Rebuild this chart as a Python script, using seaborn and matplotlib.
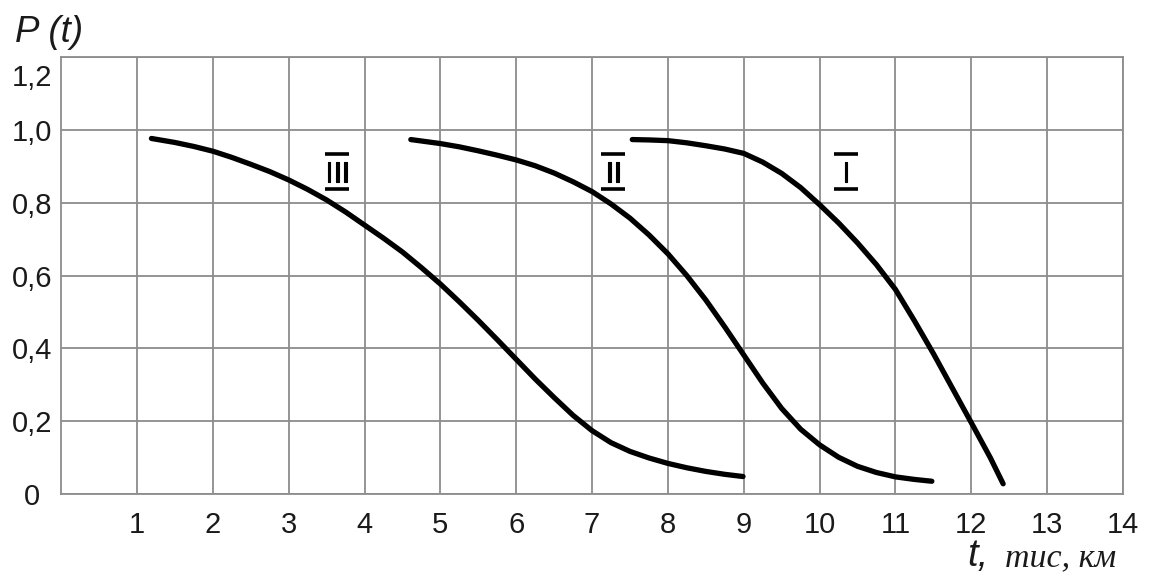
import numpy as np
import pandas as pd
import matplotlib
matplotlib.use("Agg")
import matplotlib.pyplot as plt
from matplotlib.lines import Line2D
from matplotlib.transforms import ScaledTranslation
import matplotlib.patheffects as pe
import seaborn as sns

# Reliability curves P(t) for three operating conditions
curve_names = ["I", "II", "III"]

t_I = [7.53, 7.75, 8.0, 8.25, 8.5, 8.75, 9.0, 9.25, 9.5, 9.75, 10.0, 10.25, 10.5,
       10.75, 11.0, 11.25, 11.5, 11.75, 12.0, 12.25, 12.42]
p_I = [0.974, 0.973, 0.971, 0.965, 0.957, 0.948, 0.936, 0.912, 0.881, 0.842, 0.795,
       0.745, 0.690, 0.630, 0.562, 0.476, 0.386, 0.291, 0.196, 0.100, 0.028]

t_II = [4.61, 5.0, 5.25, 5.5, 5.75, 6.0, 6.25, 6.5, 6.75, 7.0, 7.25, 7.5, 7.75, 8.0,
        8.25, 8.5, 8.75, 9.0, 9.25, 9.5, 9.75, 10.0, 10.25, 10.5, 10.75, 11.0,
        11.25, 11.48]
p_II = [0.974, 0.963, 0.954, 0.943, 0.931, 0.918, 0.902, 0.882, 0.858, 0.831, 0.797,
        0.758, 0.712, 0.660, 0.600, 0.533, 0.459, 0.382, 0.305, 0.235, 0.178, 0.135,
        0.101, 0.076, 0.059, 0.047, 0.040, 0.035]

t_III = [1.19, 1.5, 1.75, 2.0, 2.25, 2.5, 2.75, 3.0, 3.25, 3.5, 3.75, 4.0, 4.25, 4.5,
         4.75, 5.0, 5.25, 5.5, 5.75, 6.0, 6.25, 6.5, 6.75, 7.0, 7.25, 7.5, 7.75,
         8.0, 8.25, 8.5, 8.75, 8.99]
p_III = [0.977, 0.966, 0.955, 0.942, 0.925, 0.906, 0.886, 0.863, 0.837, 0.808, 0.775,
         0.739, 0.703, 0.665, 0.622, 0.577, 0.528, 0.477, 0.424, 0.370, 0.316, 0.265,
         0.216, 0.174, 0.141, 0.117, 0.099, 0.084, 0.072, 0.062, 0.054, 0.048]

# label anchor (centre x, baseline y) for each curve's numeral
label_x = [10.35, 7.28, 3.64]
label_y = [0.857, 0.857, 0.857]

x_ticks = list(range(1, 15))
y_ticks = [0.0, 0.2, 0.4, 0.6, 0.8, 1.0, 1.2]
y_tick_labels = ["0", "0,2", "0,4", "0,6", "0,8", "1,0", "1,2"]

df = pd.concat([
    pd.DataFrame({"t": t_I, "P": p_I, "curve": "I"}),
    pd.DataFrame({"t": t_II, "P": p_II, "curve": "II"}),
    pd.DataFrame({"t": t_III, "P": p_III, "curve": "III"}),
], ignore_index=True)

sns.set_theme(style="white")
plt.rcParams["font.family"] = ["Liberation Sans", "DejaVu Sans"]

DPI = 100
fig = plt.figure(figsize=(11.5, 5.75), dpi=DPI)
fig.patch.set_facecolor("white")
ax = fig.add_axes([0.0532, 0.1409, 0.9233, 0.7594])
ax.set_facecolor("white")

sns.lineplot(data=df, x="t", y="P", hue="curve", units="curve", estimator=None,
             sort=False, palette={n: "black" for n in curve_names}, legend=False,
             linewidth=3.8, solid_capstyle="round", solid_joinstyle="round",
             ax=ax, zorder=3)

grid_col = "#8c8c8c"
ax.set_xlim(0, 14)
ax.set_ylim(0, 1.2)
ax.set_xticks(x_ticks)
ax.set_xticklabels([str(v) for v in x_ticks])
ax.set_yticks(y_ticks)
ax.set_yticklabels(y_tick_labels)
ax.grid(True, color=grid_col, linewidth=1.3)
for s in ax.spines.values():
    s.set_visible(True)
    s.set_color(grid_col)
    s.set_linewidth(1.3)
ax.tick_params(axis="both", length=0, labelsize=21, colors="#1a1a1a")
ax.tick_params(axis="y", pad=21)
ax.tick_params(axis="x", pad=12)
ylabs = ax.get_yticklabels()
for lab in ylabs:
    lab.set_horizontalalignment("center")
# the top value sits a little below its gridline
ylabs[-1].set_transform(ylabs[-1].get_transform()
                        + ScaledTranslation(0, -18 / 100, fig.dpi_scale_trans))
ax.set_xlabel("")
ax.set_ylabel("")

# Roman numerals with over- and underbars
for name, lx, ly in zip(curve_names, label_x, label_y):
    ax.text(lx, ly, name, ha="center", va="baseline", fontsize=20,
            family="DejaVu Sans", color="black", zorder=4,
            path_effects=[pe.withStroke(linewidth=0.8, foreground="black")])
    cx, cy = ax.transData.transform((lx, ly))
    for dy in (28, -7):
        fig.add_artist(Line2D([cx - 12, cx + 12], [cy + dy, cy + dy],
                              transform=None, color="black", linewidth=2.6,
                              solid_capstyle="butt"))

# axis captions
fig.text(15 / 1150, 1 - 42 / 575, "P (t)", fontsize=26.5, style="italic",
         ha="left", va="baseline", color="#1a1a1a")
fig.text(967 / 1150, 1 - 566 / 575, "t,", fontsize=27.5, style="italic",
         ha="left", va="baseline", color="#1a1a1a")
fig.text(1005 / 1150, 1 - 566 / 575, "тис, км", fontsize=24.5, style="italic",
         family="Liberation Serif", ha="left", va="baseline", color="#1a1a1a")

fig.savefig("out.png", dpi=DPI, facecolor="white")
